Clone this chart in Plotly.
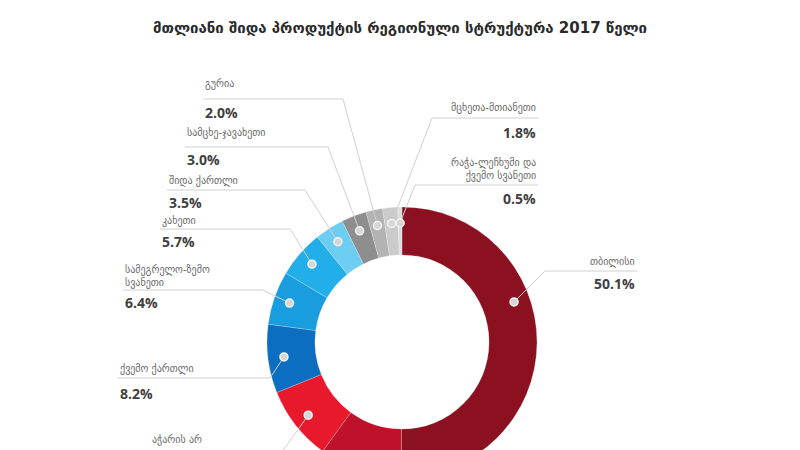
import math
import plotly.graph_objects as go

# ---------------- data ----------------
title_text = "მთლიანი შიდა პროდუქტის რეგიონული სტრუქტურა 2017 წელი"
regions = ["თბილისი", "იმერეთი", "აჭარის არ", "ქვემო ქართლი",
           "სამეგრელო-ზემო სვანეთი", "კახეთი", "შიდა ქართლი",
           "სამცხე-ჯავახეთი", "გურია", "მცხეთა-მთიანეთი",
           "რაჭა-ლეჩხუმი და ქვემო სვანეთი"]
label_names = ["თბილისი", "იმერეთი", "აჭარის არ", "ქვემო ქართლი",
               "სამეგრელო-ზემო<br>სვანეთი", "კახეთი", "შიდა ქართლი",
               "სამცხე-ჯავახეთი", "გურია", "მცხეთა-მთიანეთი",
               "რაჭა-ლეჩხუმი და<br>ქვემო სვანეთი"]
shares = [50.1, 9.9, 8.9, 8.2, 6.4, 5.7, 3.5, 3.0, 2.0, 1.8, 0.5]

# ---------------- style / layout ----------------
colors = ["#8c1120", "#bf1129", "#e8192c", "#0b6ec0", "#1a9ddf", "#22aee9",
          "#6dcdf3", "#8e8e8e", "#b3b3b3", "#cbcbcb", "#dedede"]
# label placement (page pixels): side, elbow x, elbow y, line end x, name y, value y
label_side = ["R", "L", "L", "L", "L", "L", "L", "L", "L", "R", "R"]
elbow_x = [545, 330, 282, 270, 263, 290, 305, 328, 343, 432, 415]
elbow_y = [271, 500, 452, 378, 290, 229, 190, 147, 99, 118, 185]
line_end_x = [637, 180, 150, 118, 123, 160, 167, 185, 203, 538, 538]
name_y = [262, 492, 440, 369, 276, 221, 181, 133, 84, 108, 169]
value_y = [283, 512, 465, 393, 302, 241, 202, 159, 112, 132, 198]
dot_frac = [0.39, 0.5, 0.5, 0.5, 0.5, 0.5, 0.5, 0.5, 0.5, 0.5, 0.5]

W, H = 784, 560      # figure size; page has 8px body margin
OFF = 8
VIEW_BOTTOM = 450    # visible page bottom (the chart is cropped here)
cx, cy, R_out, hole = 402, 342, 135, 0.645
R_dot = 119
DOT_R = 4

fig = go.Figure()

fig.add_trace(go.Pie(
    labels=regions, values=shares, sort=False, direction="clockwise",
    rotation=0, hole=hole, textinfo="none", hoverinfo="label+percent",
    marker=dict(colors=colors, line=dict(color="rgba(255,255,255,0.35)", width=0.6)),
    domain=dict(x=[(cx - R_out - OFF) / W, (cx + R_out - OFF) / W],
                y=[1 - (cy + R_out - OFF) / H, 1 - (cy - R_out - OFF) / H]),
    showlegend=False,
))

# invisible trace to establish the pixel-like cartesian axes
fig.add_trace(go.Scatter(x=[OFF, OFF + W], y=[OFF, VIEW_BOTTOM], mode="markers",
                         marker=dict(opacity=0), hoverinfo="skip", showlegend=False))

total = sum(shares)
cum = 0.0
for i, s in enumerate(shares):
    ang = math.radians(360.0 * (cum + dot_frac[i] * s) / total)
    cum += s
    dx = cx + R_dot * math.sin(ang)
    dy = cy - R_dot * math.cos(ang)
    # leader line (drawn above the pie)
    fig.add_shape(type="path", xref="x", yref="y", layer="above",
                  path=f"M {dx:.2f},{dy:.2f} L {elbow_x[i]},{elbow_y[i]} L {line_end_x[i]},{elbow_y[i]}",
                  line=dict(color="#d0d0d0", width=1))
    fig.add_shape(type="circle", xref="x", yref="y", layer="above",
                  x0=dx - DOT_R, x1=dx + DOT_R, y0=dy - DOT_R, y1=dy + DOT_R,
                  fillcolor="#d6d6d6", line=dict(color="#f2f2f2", width=1.5))
    anchor = "left" if label_side[i] == "L" else "right"
    fig.add_annotation(x=line_end_x[i], y=name_y[i], xref="x", yref="y",
                       text=label_names[i], showarrow=False, xanchor=anchor,
                       yanchor="middle", align=anchor,
                       font=dict(family="DejaVu Sans", size=10, color="#6a6a6a"))
    fig.add_annotation(x=line_end_x[i], y=value_y[i], xref="x", yref="y",
                       text=f"{s:.1f}%", showarrow=False, xanchor=anchor,
                       yanchor="middle",
                       font=dict(family="Open Sans", size=14, color="#3f3f3f", weight="bold"))

fig.update_layout(
    width=W, height=H,
    margin=dict(l=0, r=0, t=0, b=0),
    paper_bgcolor="white", plot_bgcolor="rgba(0,0,0,0)",
    xaxis=dict(range=[OFF, OFF + W], visible=False, fixedrange=True, domain=[0, 1]),
    yaxis=dict(range=[VIEW_BOTTOM, OFF], visible=False, fixedrange=True,
               domain=[1 - (VIEW_BOTTOM - OFF) / H, 1]),
    title=dict(text="<b>" + title_text + "</b>", x=0.5, xanchor="center",
               y=1 - (28 - OFF) / H, yanchor="middle",
               font=dict(family="DejaVu Sans", size=15, color="#2a2a2a")),
)

fig.write_html("out.html")
